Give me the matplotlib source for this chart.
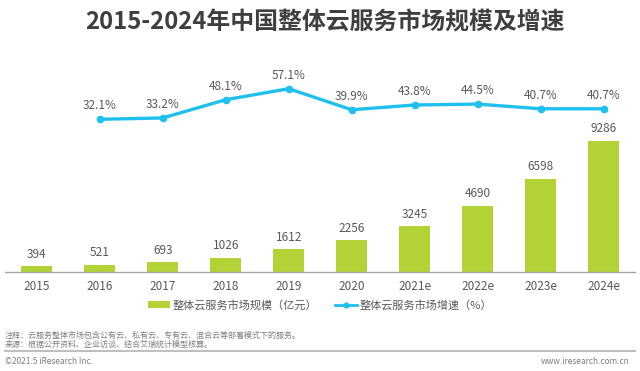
import matplotlib
matplotlib.use("Agg")
import matplotlib.pyplot as plt
from matplotlib.patches import Patch
from matplotlib.lines import Line2D

plt.rcParams['font.family'] = ['Noto Sans CJK SC', 'DejaVu Sans']

years = ['2015', '2016', '2017', '2018', '2019', '2020', '2021e', '2022e', '2023e', '2024e']
market_size = [394, 521, 693, 1026, 1612, 2256, 3245, 4690, 6598, 9286]
growth_years = ['2016', '2017', '2018', '2019', '2020', '2021e', '2022e', '2023e', '2024e']
growth = [32.1, 33.2, 48.1, 57.1, 39.9, 43.8, 44.5, 40.7, 40.7]

BAR_C = '#B2D235'
LINE_C = '#1FC0EE'
TXT_C = '#595959'

W, H = 640, 371
fig = plt.figure(figsize=(W / 100, H / 100), dpi=100)
fig.patch.set_facecolor('white')

ax_l, ax_b, ax_w, ax_h = 5.2, 99, 630, 192
ax = fig.add_axes([ax_l / W, ax_b / H, ax_w / W, ax_h / H])
x = list(range(len(years)))
ax.bar(x, market_size, width=0.5, color=BAR_C, zorder=2)
ax.set_xlim(-0.5, len(years) - 0.5)
ax.set_ylim(0, 192 * 70.9)
for i, v in zip(x, market_size):
    ax.annotate(f'{v}', (i, v), xytext=(0, 4), textcoords='offset points',
                ha='center', va='bottom', fontsize=8.5, color=TXT_C)
ax.set_xticks(x)
ax.set_xticklabels(years, fontsize=8.5, color=TXT_C)
ax.tick_params(axis='x', length=0, pad=6)
ax.set_yticks([])
for s in ['top', 'right', 'left']:
    ax.spines[s].set_visible(False)
ax.spines['bottom'].set_color('#A6A6A6')
ax.spines['bottom'].set_linewidth(1)

ax2 = ax.twinx()
gx = [years.index(g) for g in growth_years]
ax2.plot(gx, growth, color=LINE_C, lw=2.4, marker='o', ms=4.5, zorder=3)
ax2.set_ylim(-92.6, 64.2)
ax2.set_yticks([])
for s in ['top', 'right', 'left', 'bottom']:
    ax2.spines[s].set_visible(False)
for i, v in zip(gx, growth):
    ax2.annotate(f'{v:.1f}%', (i, v), xytext=(0, 5), textcoords='offset points',
                 ha='center', va='bottom', fontsize=8.5, color=TXT_C)

fig.text(325 / W, 1 - 22 / H, '2015-2024年中国整体云服务市场规模及增速',
         ha='center', va='center', fontsize=17.2, fontweight='bold', color='#3F3F3F')

handles = [Patch(facecolor=BAR_C, edgecolor='none'),
           Line2D([0], [0], color=LINE_C, lw=2, marker='o', ms=3.5)]
labels = ['整体云服务市场规模（亿元）', '整体云服务市场增速（%）']
fig.legend(handles, labels, loc='center', bbox_to_anchor=(320 / W, 1 - 305 / H),
           ncol=2, frameon=False, fontsize=8, labelcolor=TXT_C,
           handlelength=2.0, handleheight=0.5, handletextpad=0.2, columnspacing=1.6)

fig.text(5 / W, 1 - 335 / H, '注释：云服务整体市场包含公有云、私有云、专有云、混合云等部署模式下的服务。',
         ha='left', va='center', fontsize=5.8, color='#7F7F7F')
fig.text(5 / W, 1 - 344 / H, '来源：根据公开资料、企业访谈、结合艾瑞统计模型核算。',
         ha='left', va='center', fontsize=5.8, color='#7F7F7F')
fig.add_artist(Line2D([5 / W, 635 / W], [1 - 350.7 / H, 1 - 350.7 / H],
                      color='#BFBFBF', lw=1.5, transform=fig.transFigure))
fig.text(5 / W, 1 - 361 / H, '©2021.5 iResearch Inc.', ha='left', va='center',
         fontsize=6, color='#7F7F7F')
fig.text(630 / W, 1 - 361 / H, 'www.iresearch.com.cn', ha='right', va='center',
         fontsize=6, color='#7F7F7F')

fig.savefig('out.png', dpi=100, facecolor='white')
